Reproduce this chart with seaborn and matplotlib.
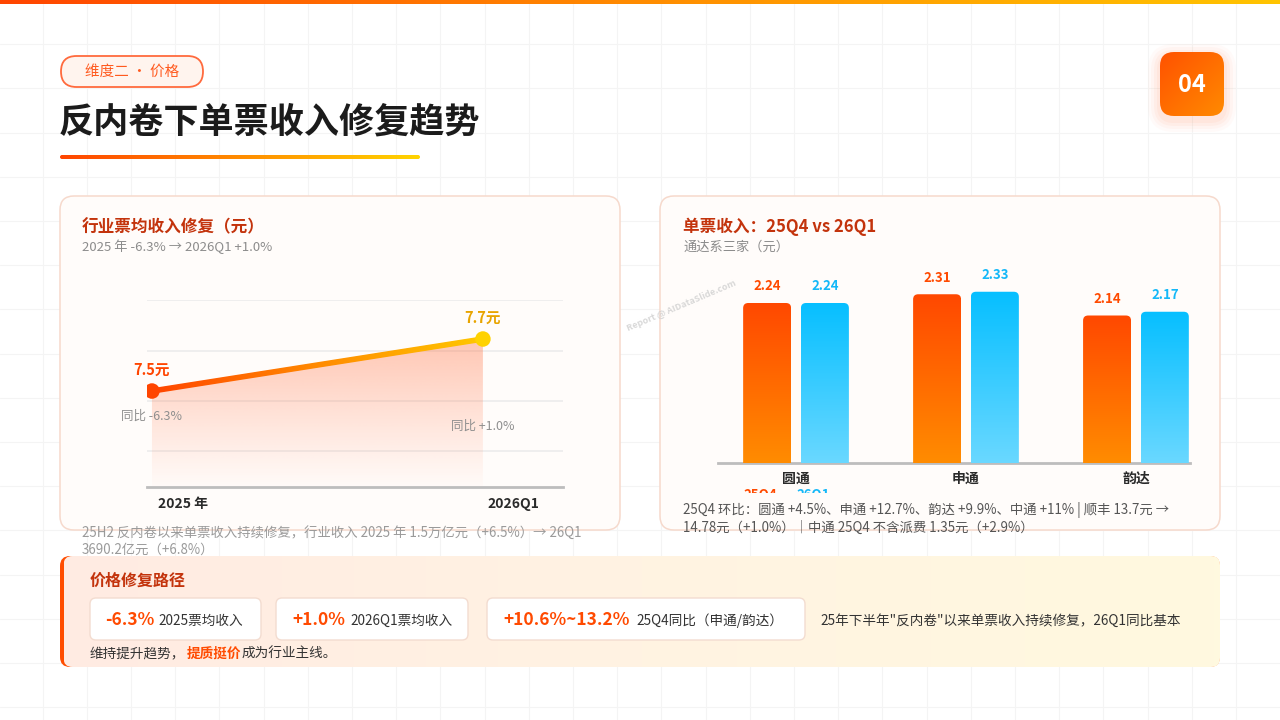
import numpy as np
import pandas as pd
import matplotlib
matplotlib.use("Agg")
import matplotlib.pyplot as plt
import seaborn as sns
from matplotlib.patches import FancyBboxPatch, Polygon, Rectangle
from matplotlib.colors import LinearSegmentedColormap, to_rgba
from matplotlib.transforms import IdentityTransform

# ---- 数据 ----
trend_periods = ["2025 年", "2026Q1"]
trend_values = [7.5, 7.7]
trend_labels = ["7.5元", "7.7元"]
trend_yoy = ["同比 -6.3%", "同比 +1.0%"]

companies = ["圆通", "申通", "韵达"]
quarters = ["25Q4", "26Q1"]
rev_25q4 = [2.24, 2.31, 2.14]
rev_26q1 = [2.24, 2.33, 2.17]

path_values = ["-6.3%", "+1.0%", "+10.6%~13.2%"]
path_labels = ["2025票均收入", "2026Q1票均收入", "25Q4同比（申通/韵达）"]

# ---- 样式 ----
sns.set_theme(style="white")
plt.rcParams['font.family'] = ['Noto Sans CJK SC', 'DejaVu Sans']
plt.rcParams['axes.unicode_minus'] = False

W, H = 1280, 720
RED = "#ff4a00"
BLUE = "#14bdfb"
TITLE_RED = "#c3330c"
GRAY = "#8c8c8c"
CARD_FC = "#fffcfa"
CARD_EC = "#f6d9cc"

fig = plt.figure(figsize=(12.8, 7.2), dpi=100)
fig.patch.set_facecolor("white")
bg = fig.add_axes([0, 0, 1, 1])
bg.axis("off")


def fax(x0, y0, x1, y1):
    # 像素框 -> axes
    a = fig.add_axes([x0 / W, 1 - y1 / H, (x1 - x0) / W, (y1 - y0) / H])
    a.patch.set_alpha(0)
    return a


def grad(ax, x0, x1, y_bot, y_top, colors, horizontal=True, zorder=3, clip=None):
    cmap = LinearSegmentedColormap.from_list("g", colors)
    g = np.linspace(0, 1, 256)
    g = g[None, :] if horizontal else g[:, None]
    im = ax.imshow(g, cmap=cmap, extent=[x0, x1, y_bot, y_top], aspect="auto",
                   zorder=zorder, interpolation="bicubic")
    if clip is not None:
        im.set_clip_path(clip)
    return im


def rbox(x0, y0, x1, y1, r, **kw):
    return FancyBboxPatch((x0, y0), x1 - x0, y1 - y0,
                          boxstyle=f"round,pad=0,rounding_size={r}", **kw)


# 背景网格
for gx in np.arange(42.5, W, 44.2):
    bg.plot([gx, gx], [0, H], color="#f4f4f4", lw=0.8, zorder=0)
for gy in np.arange(0.0, H, 44.2):
    bg.plot([0, W], [gy, gy], color="#f4f4f4", lw=0.8, zorder=0)

# 顶部渐变条
grad(bg, 0, W, 4, 0, ["#ff4500", "#ff8c00", "#ffc400"], zorder=3)

# 标签胶囊
bg.add_patch(rbox(61, 56, 203, 87, 15.5, fc="#fff4ee", ec="#ff6a3d", lw=1.3, zorder=3))
bg.text(132, 72, "维度二 · 价格", color="#ff5a1f", fontsize=10.5,
        ha="center", va="center", zorder=4)

# 主标题
bg.text(59, 122, "反内卷下单票收入修复趋势", fontsize=25.3, fontweight="black",
        color="#1b1b1b", ha="left", va="center", zorder=4)
ul = rbox(60, 155, 420, 159, 2, transform=bg.transData, fc="none", ec="none")
bg.add_patch(ul)
grad(bg, 60, 420, 159, 155, ["#ff4500", "#ff8c00", "#ffd400"], zorder=4, clip=ul)

# 角标 04
for i, a in enumerate([0.03, 0.04, 0.05, 0.06]):
    p = 12 - i * 3
    bg.add_patch(rbox(1160 - p, 52 - p + 4, 1224 + p, 116 + p + 4, 14 + p,
                      fc="#ff7a40", ec="none", alpha=a, zorder=2))
badge = rbox(1160, 52, 1224, 116, 14, transform=bg.transData, fc="none", ec="none")
bg.add_patch(badge)
dg = np.add.outer(np.linspace(0, 1, 64), np.linspace(0, 1, 64)) / 2
bg.imshow(dg, cmap=LinearSegmentedColormap.from_list("b", ["#ff5200", "#ff8a00"]),
          extent=[1160, 1224, 116, 52], aspect="auto", zorder=3,
          interpolation="bicubic").set_clip_path(badge)
bg.text(1192, 85, "04", color="white", fontsize=17, fontweight="bold",
        ha="center", va="center", zorder=5)

# 两张卡片
for x0, x1 in [(60, 620), (660, 1220)]:
    bg.add_patch(rbox(x0, 196, x1, 530, 14, fc=CARD_FC, ec=CARD_EC, lw=1.1, zorder=2))

# ---- 左卡片：行业票均收入 ----
bg.text(82, 227, "行业票均收入修复（元）", fontsize=12, fontweight="bold",
        color=TITLE_RED, va="center", zorder=4)
bg.text(82, 247, "2025 年 -6.3% → 2026Q1 +1.0%", fontsize=9.5, color=GRAY,
        va="center", zorder=4)
bg.text(82, 533, "25H2 反内卷以来单票收入持续修复，行业收入 2025 年 1.5万亿元（+6.5%）→ 26Q1",
        fontsize=9.6, color="#9a9a9a", va="center", zorder=4)
bg.text(82, 550, "3690.2亿元（+6.8%）", fontsize=9.6, color="#9a9a9a", va="center", zorder=4)

df_trend = pd.DataFrame({"idx": np.arange(len(trend_values)), "period": trend_periods,
                         "value": trend_values})
ax1 = fax(147, 300, 563, 487)
y_lo, y_hi = 7.131, 7.85
ax1.set_xlim(-0.015, 1.242)
ax1.set_ylim(y_lo, y_hi)

sns.lineplot(data=df_trend, x="idx", y="value", color="#ff8000", lw=3.0, ax=ax1, zorder=4)
sns.scatterplot(data=df_trend, x="idx", y="value", hue="period",
                palette=["#ff4500", "#ffd200"], s=125, edgecolor="none",
                legend=False, ax=ax1, zorder=6)

# 面积渐变
area = Polygon(np.r_[[[df_trend.idx.iloc[0], y_lo]],
                     df_trend[["idx", "value"]].to_numpy(),
                     [[df_trend.idx.iloc[-1], y_lo]]],
               closed=True, transform=ax1.transData, fc="none", ec="none")
ax1.add_patch(area)
fill = np.zeros((256, 1, 4))
fill[..., :3] = to_rgba("#ff7040")[:3]
fill[:, 0, 3] = np.linspace(0.42, 0.02, 256) ** 1.1
ax1.imshow(fill, extent=[-0.1, 1.1, y_lo, max(trend_values)], aspect="auto",
           zorder=2, interpolation="bicubic").set_clip_path(area)

# 折线渐变（屏幕坐标下的线带）
pts = ax1.transData.transform(df_trend[["idx", "value"]].to_numpy())
d = pts[-1] - pts[0]
n = np.array([-d[1], d[0]]) / np.hypot(*d) * 2.8
band = Polygon([pts[0] + n, pts[-1] + n, pts[-1] - n, pts[0] - n], closed=True,
               transform=IdentityTransform(), fc="none", ec="none")
ax1.add_patch(band)
grad(ax1, 0, 1, y_lo, y_hi, ["#ff4500", "#ff8a00", "#ffc800"], zorder=5, clip=band)
ax1.set_xlim(-0.015, 1.242)
ax1.set_ylim(y_lo, y_hi)

val_colors = ["#ff4500", "#e8a400"]
yoy_offsets = [-18, -63]
for i, r in df_trend.iterrows():
    ax1.annotate(trend_labels[i], (r.idx, r.value), xytext=(0, 15), textcoords="offset points",
                 ha="center", va="center", fontsize=10.5, fontweight="bold",
                 color=val_colors[i], zorder=7)
    ax1.annotate(trend_yoy[i], (r.idx, r.value), xytext=(0, yoy_offsets[i]),
                 textcoords="offset points", ha="center", va="center",
                 fontsize=9, color="#8f8f8f", zorder=7)
    ax1.annotate(r.period, (r.idx, 0), xycoords=("data", "axes fraction"),
                 xytext=(22, -12), textcoords="offset points", ha="center", va="center",
                 fontsize=10, fontweight="bold", color="#2a2a2a")

ax1.set_yticks(y_hi - np.array([0, 51, 101, 151]) / 260)
ax1.grid(axis="y", color="#ececec", lw=1.2)
ax1.set_xticks([])
ax1.tick_params(left=False, labelleft=False)
ax1.set_xlabel("")
ax1.set_ylabel("")
for s in ["top", "left", "right"]:
    ax1.spines[s].set_visible(False)
ax1.spines["bottom"].set_color("#bdbdbd")
ax1.spines["bottom"].set_linewidth(2)

# ---- 右卡片：单票收入 ----
bg.text(683, 227, "单票收入：25Q4 vs 26Q1", fontsize=12, fontweight="bold",
        color=TITLE_RED, va="center", zorder=4)
bg.text(683, 247, "通达系三家（元）", fontsize=9.5, color=GRAY, va="center", zorder=4)

df_bar = pd.DataFrame({
    "company": companies * 2,
    "quarter": [quarters[0]] * len(companies) + [quarters[1]] * len(companies),
    "value": rev_25q4 + rev_26q1,
})
ax2 = fax(718, 270, 1190, 463)
sns.barplot(data=df_bar, x="company", y="value", hue="quarter",
            palette=[RED, BLUE], width=0.68, gap=0.17, legend=False, ax=ax2)
b_lo, b_hi = 0.96, 2.504
ax2.set_xlim(-0.459, 2.318)
ax2.set_ylim(b_lo, b_hi)

bar_grads = [["#ff4800", "#ff8c00"], ["#06bfff", "#6ad8ff"]]
lbl_colors = ["#ff4a00", "#14b8f8"]
for ci, cont in enumerate(ax2.containers):
    for bar in cont:
        x, w, h = bar.get_x(), bar.get_width(), bar.get_height()
        bar.set_visible(False)
        shape = FancyBboxPatch((x, b_lo - 0.05), w, h - b_lo + 0.05,
                               boxstyle="round,pad=0,rounding_size=0.03",
                               mutation_aspect=1.36, transform=ax2.transData,
                               fc="none", ec="none")
        ax2.add_patch(shape)
        grad(ax2, x, x + w, b_lo, h, bar_grads[ci], horizontal=False, zorder=3, clip=shape)
        ax2.annotate(f"{h:.2f}", (x + w / 2, h), xytext=(0, 7), textcoords="offset points",
                     ha="center", va="bottom", fontsize=9.5, fontweight="bold",
                     color=lbl_colors[ci])
ax2.set_xlim(-0.459, 2.318)
ax2.set_ylim(b_lo, b_hi)
ax2.set_xlabel("")
ax2.set_ylabel("")
ax2.set_yticks([])
ax2.tick_params(axis="x", length=0, pad=6)
for t in ax2.get_xticklabels():
    t.set_fontweight("bold")
    t.set_fontsize(10)
    t.set_color("#2a2a2a")
for s in ["top", "left", "right"]:
    ax2.spines[s].set_visible(False)
ax2.spines["bottom"].set_color("#bdbdbd")
ax2.spines["bottom"].set_linewidth(2)

# 被遮挡的图例（只露出顶部）
for q, cx, c in zip(quarters, [760, 813], lbl_colors):
    bg.text(cx, 495.5, q, fontsize=9.5, fontweight="bold", color=c,
            ha="center", va="center", zorder=3)
bg.add_patch(Rectangle((700, 492.5), 200, 30, fc=CARD_FC, ec="none", zorder=3.5))

bg.text(683, 510, "25Q4 环比：圆通 +4.5%、申通 +12.7%、韵达 +9.9%、中通 +11% | 顺丰 13.7元 →",
        fontsize=9.6, color="#555555", va="center", zorder=4)
bg.text(683, 528, "14.78元（+1.0%）｜中通 25Q4 不含派费 1.35元（+2.9%）",
        fontsize=9.6, color="#555555", va="center", zorder=4)

# 水印
bg.text(681, 306, "Report @ AIDataSlide.com", fontsize=6.5, fontweight="bold",
        color="#cfcfcf", rotation=23, ha="center", va="center", alpha=0.8, zorder=6)

# ---- 底部：价格修复路径 ----
bg.add_patch(rbox(60, 556, 1220, 667, 10, fc="#ff4d00", ec="none", zorder=2))
panel = rbox(63.5, 556, 1220, 667, 9, transform=bg.transData, fc="none", ec="none")
bg.add_patch(panel)
grad(bg, 63.5, 1220, 667, 556, ["#ffebe2", "#fff3e2", "#fff9df"], zorder=2.5, clip=panel)
bg.text(90, 581, "价格修复路径", fontsize=11.5, fontweight="bold", color=TITLE_RED,
        va="center", zorder=4)

boxes = [(90, 261, 105, 158), (276, 468, 292, 350), (487, 805, 503, 636)]
for (x0, x1, vx, lx), v, lab in zip(boxes, path_values, path_labels):
    bg.add_patch(rbox(x0, 598, x1, 640, 6, fc="white", ec="#f3dcd0", lw=1, zorder=3))
    bg.text(vx, 620, v, fontsize=12.5, fontweight="bold", color="#ff4a00",
            va="center", zorder=4)
    bg.text(lx, 621, lab, fontsize=9.8, color="#333333", va="center", zorder=4)

bg.text(820, 621, "25年下半年\"反内卷\"以来单票收入持续修复，26Q1同比基本",
        fontsize=9.8, color="#333333", va="center", zorder=4)
bg.text(90, 654, "维持提升趋势，", fontsize=9.8, color="#333333", va="center", zorder=4)
bg.text(187, 654, "提质挺价", fontsize=9.8, fontweight="bold", color="#ff4a00",
        va="center", zorder=4)
bg.text(242, 654, "成为行业主线。", fontsize=9.8, color="#333333", va="center", zorder=4)

bg.set_xlim(0, W)
bg.set_ylim(H, 0)

fig.savefig("out.png", dpi=100, facecolor="white")
